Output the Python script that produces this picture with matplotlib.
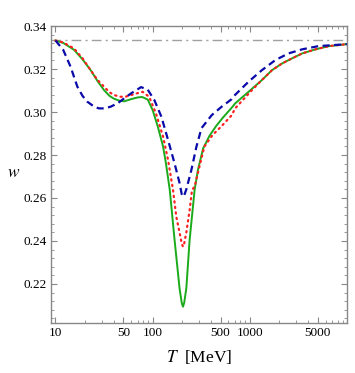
import numpy as np
import matplotlib
matplotlib.use('Agg')
import matplotlib.pyplot as plt
from matplotlib.ticker import FixedLocator, FixedFormatter, MultipleLocator, FormatStrFormatter

plt.rcParams['font.family'] = ['Liberation Serif', 'DejaVu Serif']
plt.rcParams['mathtext.fontset'] = 'stix'

# green solid
T_green = [10, 12, 15.5, 19, 23, 27, 31.6, 36, 40, 46, 51, 60, 70, 78, 89, 100, 113, 128,
           137, 150, 168, 189, 199, 205, 211, 222, 240, 270, 292, 330, 385, 450, 530, 650,
           705, 968, 1330, 1690, 2140, 2720, 3460, 4750, 6530, 10000]
w_green = [0.3333, 0.3322, 0.3290, 0.3245, 0.3195, 0.3145, 0.3102, 0.3075, 0.3062, 0.3052,
           0.3050, 0.3060, 0.3068, 0.3070, 0.3058, 0.3009, 0.2932, 0.2839, 0.2761, 0.2637,
           0.2405, 0.2180, 0.2112, 0.2094, 0.2112, 0.2180, 0.2405, 0.2637, 0.2730, 0.2830,
           0.2890, 0.2935, 0.2975, 0.3020, 0.3040, 0.3094, 0.3149, 0.3195, 0.3226, 0.3250,
           0.3273, 0.3292, 0.3307, 0.3316]

# red dotted
T_red = [10, 12, 15.5, 19, 23, 27, 31.6, 36, 40, 47, 53, 60, 70, 79, 92, 108, 128, 144,
         162, 175, 189, 199, 205, 211, 222, 240, 254, 270, 303, 340, 413, 513, 650, 705,
         1050, 1330, 1690, 2140, 2720, 3460, 4750, 6530, 10000]
w_red = [0.3333, 0.3324, 0.3296, 0.3250, 0.3195, 0.3150, 0.3118, 0.3092, 0.3079, 0.3071,
         0.3072, 0.3079, 0.3088, 0.3094, 0.3071, 0.2994, 0.2885, 0.2777, 0.2637, 0.2513,
         0.2440, 0.2388, 0.2373, 0.2388, 0.2440, 0.2544, 0.2637, 0.2653, 0.2747, 0.2839,
         0.2893, 0.2935, 0.2985, 0.3017, 0.3102, 0.3149, 0.3195, 0.3226, 0.3250, 0.3273,
         0.3292, 0.3307, 0.3316]

# blue dashed
T_blue = [10, 12, 14.3, 16.8, 19, 21.3, 25, 28, 32, 37, 44, 51, 60, 76, 89, 104, 123, 144,
          168, 189, 199, 205, 211, 222, 250, 282, 318, 404, 513, 650, 705, 968, 1330, 1830,
          2500, 3460, 5100, 10000]
w_blue = [0.3333, 0.3290, 0.3211, 0.3118, 0.3075, 0.3048, 0.3025, 0.3017, 0.3017, 0.3025,
          0.3042, 0.3064, 0.3087, 0.3116, 0.3104, 0.3056, 0.2978, 0.2870, 0.2761, 0.2670,
          0.2618, 0.2606, 0.2612, 0.2640, 0.2730, 0.2839, 0.2925, 0.2985, 0.3025, 0.3060,
          0.3080, 0.3141, 0.3195, 0.3242, 0.3273, 0.3292, 0.3307, 0.3316]

w_conformal = 1 / 3

x_major = [10, 50, 100, 500, 1000, 5000]
x_labels = ['10', '50', '100', '500', '1000', '5000']
x_minor = [m * 10 ** d for d in range(1, 4) for m in range(1, 10)] + [10000]

fig = plt.figure(figsize=(3.55, 3.73), dpi=100)
ax = fig.add_axes([0.1437, 0.134, 0.834, 0.796])

ax.axhline(w_conformal, color='#a0a0a0', lw=1.0, dashes=(7, 3, 1.5, 3))
ax.plot(T_green, w_green, color='#1aaa1a', lw=1.4)
ax.plot(T_red, w_red, color='#ff2020', lw=1.6, dashes=(0.6, 1.9), dash_capstyle='round')
ax.plot(T_blue, w_blue, color='#0a0aaa', lw=1.6, dashes=(3.2, 2.0))

ax.set_xscale('log')
ax.set_xlim(9, 10000)
ax.set_ylim(0.2018, 0.34)

ax.xaxis.set_major_locator(FixedLocator(x_major))
ax.xaxis.set_major_formatter(FixedFormatter(x_labels))
ax.xaxis.set_minor_locator(FixedLocator(x_minor))
ax.xaxis.set_minor_formatter(FixedFormatter([''] * len(x_minor)))
ax.yaxis.set_major_locator(MultipleLocator(0.02))
ax.yaxis.set_minor_locator(MultipleLocator(0.004))
ax.yaxis.set_major_formatter(FormatStrFormatter('%.2f'))

for s in ax.spines.values():
    s.set_color('#888888')
    s.set_linewidth(1.0)
ax.tick_params(which='both', direction='in', top=True, right=True, color='#888888',
               labelsize=9.5, pad=3)
ax.tick_params(which='major', length=4, width=0.8)
ax.tick_params(which='minor', length=2, width=0.6)

ax.set_xlabel(r'$T\ $ [MeV]', fontsize=12.5, labelpad=6)
ax.set_ylabel(r'$w$', fontsize=12.5, rotation=0)
ax.yaxis.set_label_coords(-0.125, 0.48)

fig.savefig('out.png', dpi=100)
